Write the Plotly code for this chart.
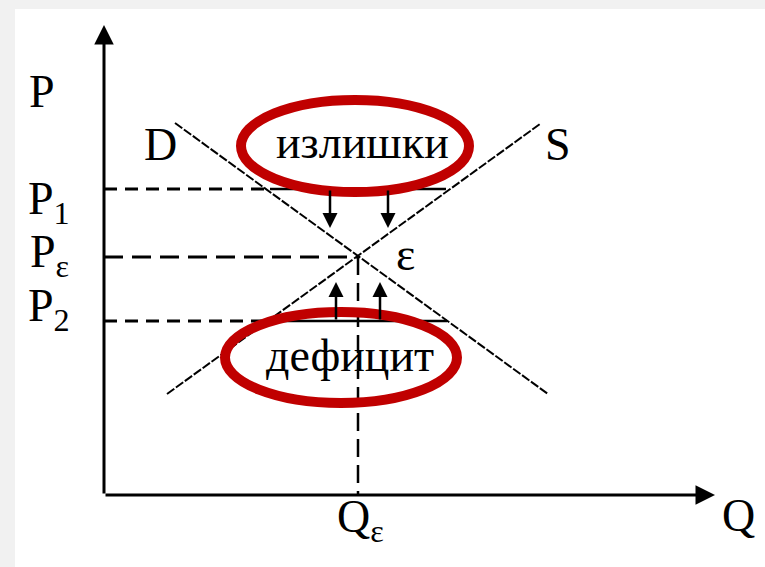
import plotly.graph_objects as go

# условные единицы: Q по горизонтали, P по вертикали
q_e = 25.4
p_e = 23.8
p_1 = 30.6
p_2 = 17.4

# прямые спроса D и предложения S (концы)
d_q = [7.1, 44.4]
d_p = [37.2, 10.1]
s_q = [6.3, 43.6]
s_p = [10.1, 37.1]

# сплошные отрезки между D и S на уровнях P1 и P2
p1_q = [16.6, 34.2]
p2_q = [16.4, 34.3]

# стрелки к равновесию
arrow_down_q = [22.6, 28.4]
arrow_up_q = [23.2, 27.6]
arrow_down_tip = 26.7
arrow_up_tip = 21.3

q_max = 61.1
p_max = 47.0

FONT = 'Liberation Serif'
RED = '#c00000'

fig = go.Figure()

# пунктир от осей
fig.add_trace(go.Scatter(x=[0, p1_q[0]], y=[p_1, p_1], mode='lines',
                         line=dict(color='black', width=3, dash='13px,8px')))
fig.add_trace(go.Scatter(x=[0, p2_q[0]], y=[p_2, p_2], mode='lines',
                         line=dict(color='black', width=3, dash='13px,8px')))
fig.add_trace(go.Scatter(x=[0, q_e], y=[p_e, p_e], mode='lines',
                         line=dict(color='black', width=3, dash='19px,9px')))
fig.add_trace(go.Scatter(x=[q_e, q_e], y=[p_e, 0], mode='lines',
                         line=dict(color='black', width=2.5, dash='18px,8px')))

# сплошные отрезки излишка и дефицита
fig.add_trace(go.Scatter(x=p1_q, y=[p_1, p_1], mode='lines',
                         line=dict(color='black', width=2.5)))
fig.add_trace(go.Scatter(x=p2_q, y=[p_2, p_2], mode='lines',
                         line=dict(color='black', width=2.5)))

# D и S
fig.add_trace(go.Scatter(x=d_q, y=d_p, mode='lines',
                         line=dict(color='black', width=2, dash='9px,2px')))
fig.add_trace(go.Scatter(x=s_q, y=s_p, mode='lines',
                         line=dict(color='black', width=2, dash='9px,2px')))

# эллипсы
fig.add_shape(type='circle', xref='x', yref='y', x0=13.7, x1=36.5, y0=30.3, y1=39.5,
              line=dict(color=RED, width=10), layer='above')
fig.add_shape(type='circle', xref='x', yref='y', x0=12.1, x1=35.3, y0=9.2, y1=18.3,
              line=dict(color=RED, width=10), layer='above')

arrows = []
# оси
arrows.append(dict(x=0, y=p_max, ax=0, ay=0, arrowwidth=3, arrowsize=1.3))
arrows.append(dict(x=q_max, y=0, ax=0, ay=0, arrowwidth=3, arrowsize=1.3))
for q in arrow_down_q:
    arrows.append(dict(x=q, y=arrow_down_tip, ax=q, ay=p_1, arrowwidth=2.5, arrowsize=1.2))
for q in arrow_up_q:
    arrows.append(dict(x=q, y=arrow_up_tip, ax=q, ay=p_2, arrowwidth=2.5, arrowsize=1.2))
for a in arrows:
    fig.add_annotation(xref='x', yref='y', axref='x', ayref='y', text='',
                       showarrow=True, arrowhead=2, arrowcolor='black', standoff=0,
                       **a)

labels = [
    ('P', -6.2, 40.4),
    ('P<sub>1</sub>', -5.5, 29.3),
    ('P<sub>ε</sub>', -5.5, 24.0),
    ('P<sub>2</sub>', -5.5, 18.6),
    ('Q', 63.4, -2.0),
    ('Q<sub>ε</sub>', 25.6, -2.5),
    ('D', 5.6, 35.1),
    ('S', 45.4, 35.1),
    ('ε', 30.1, 24.1),
    ('излишки', 25.8, 35.3),
    ('дефицит', 24.6, 14.0),
]
for txt, x, y in labels:
    fig.add_annotation(x=x, y=y, xref='x', yref='y', text=txt, showarrow=False,
                       xanchor='center', yanchor='middle',
                       font=dict(family=FONT, size=46 if len(txt) < 14 else 44, color='black'))

fig.update_layout(
    width=765, height=567,
    margin=dict(l=15, r=0, t=9, b=0),
    paper_bgcolor='#f1f1f1',
    plot_bgcolor='white',
    showlegend=False,
    xaxis=dict(range=[-8.9, 66.1], visible=False, fixedrange=True),
    yaxis=dict(range=[-7.2, 48.6], visible=False, fixedrange=True),
)

fig.write_html('out.html', config={'displayModeBar': False},
               post_script="document.body.style.margin='0';document.body.style.overflow='hidden';")
